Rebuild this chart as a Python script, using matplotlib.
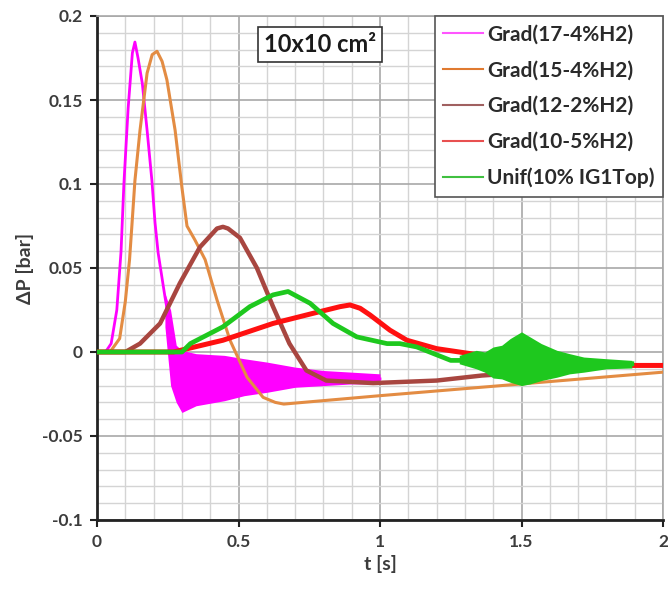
import matplotlib
matplotlib.use("Agg")
import matplotlib.pyplot as plt
from matplotlib.ticker import MultipleLocator
from matplotlib.lines import Line2D

plt.rcParams['font.family'] = ['Lato', 'DejaVu Sans']

# ---------------- data ----------------
labels = ["Grad(17-4%H2)", "Grad(15-4%H2)", "Grad(12-2%H2)", "Grad(10-5%H2)", "Unif(10% IG1Top)"]

mag_t = [0, 0.03, 0.05, 0.07, 0.085, 0.095, 0.11, 0.125, 0.134, 0.145, 0.16, 0.177, 0.194, 0.205,
         0.216, 0.24, 0.25, 0.265, 0.28, 0.3, 0.35, 0.45, 0.6, 0.8, 1.0]
mag_p = [0, 0.0, 0.005, 0.025, 0.06, 0.10, 0.145, 0.178, 0.1845, 0.175, 0.16, 0.132, 0.102, 0.077,
         0.059, 0.033, 0.023, 0.0, -0.012, -0.016, -0.016, -0.015, -0.015, -0.0155, -0.016]
mag_env_t = [0.24, 0.26, 0.28, 0.3, 0.35, 0.45, 0.52, 0.6, 0.7, 0.8, 0.9, 1.0]
mag_env_lo = [0.015, -0.02, -0.03, -0.036, -0.032, -0.029, -0.026, -0.024, -0.021, -0.02, -0.019, -0.019]
mag_env_hi = [0.035, 0.025, 0.004, 0.001, -0.001, -0.002, -0.004, -0.006, -0.009, -0.011, -0.012, -0.013]

ora_t = [0, 0.046, 0.08, 0.1, 0.115, 0.124, 0.134, 0.152, 0.177, 0.195, 0.212, 0.23, 0.247, 0.276,
         0.3, 0.318, 0.346, 0.382, 0.424, 0.47, 0.53, 0.587, 0.63, 0.66, 1.0, 1.5, 2.0]
ora_p = [0, 0, 0.008, 0.03, 0.055, 0.077, 0.102, 0.132, 0.166, 0.177, 0.179, 0.173, 0.162, 0.132,
         0.098, 0.075, 0.0667, 0.055, 0.031, 0.007, -0.015, -0.027, -0.030, -0.031, -0.026, -0.019, -0.012]

bro_t = [0, 0.1, 0.152, 0.223, 0.293, 0.364, 0.424, 0.445, 0.463, 0.505, 0.565, 0.622, 0.68, 0.74,
         0.81, 0.976, 1.2, 1.36, 1.45]
bro_p = [0, 0.0, 0.005, 0.017, 0.041, 0.0625, 0.0735, 0.0745, 0.0735, 0.068, 0.05, 0.027, 0.005, -0.011,
         -0.017, -0.0185, -0.017, -0.014, -0.013]

red_t = [0, 0.27, 0.445, 0.622, 0.763, 0.859, 0.894, 0.93, 0.965, 1.035, 1.095, 1.2, 1.4, 1.6, 1.8, 1.9, 2.0]
red_p = [0, 0.0, 0.007, 0.017, 0.023, 0.027, 0.028, 0.026, 0.022, 0.013, 0.007, 0.002, -0.003,
         -0.006, -0.008, -0.008, -0.008]

gre_t = [0, 0.3, 0.33, 0.445, 0.54, 0.622, 0.675, 0.753, 0.834, 0.918, 1.025, 1.07, 1.13, 1.25, 1.34,
         1.4, 1.5, 1.625, 1.72, 1.89]
gre_p = [0, 0, 0.005, 0.015, 0.027, 0.034, 0.036, 0.029, 0.017, 0.009, 0.005, 0.005, 0.003, -0.005,
         -0.005, -0.006, -0.004, -0.007, -0.0075, -0.007]
gre_env_t = [1.28, 1.34, 1.37, 1.4, 1.43, 1.46, 1.5, 1.53, 1.57, 1.625, 1.67, 1.72, 1.8, 1.89]
gre_env_lo = [-0.007, -0.01, -0.012, -0.0155, -0.016, -0.018, -0.02, -0.019, -0.017, -0.015, -0.013,
              -0.012, -0.01, -0.0095]
gre_env_hi = [-0.002, 0.001, 0.0, 0.003, 0.004, 0.008, 0.012, 0.009, 0.005, 0.001, -0.001, -0.003,
              -0.004, -0.005]

x_ticks = [0, 0.5, 1, 1.5, 2]
x_ticklabels = ["0", "0.5", "1", "1.5", "2"]
y_ticks = [-0.1, -0.05, 0, 0.05, 0.1, 0.15, 0.2]
y_ticklabels = ["-0.1", "-0.05", "0", "0.05", "0.1", "0.15", "0.2"]

colors = ["#ff00ff", "#e38c43", "#a84640", "#ff1010", "#1ec81e"]
legend_colors = ["#ff55ff", "#e07a30", "#a06060", "#e85050", "#40c040"]

# ---------------- figure ----------------
fig = plt.figure(figsize=(6.68, 5.90), dpi=100)
ax = fig.add_axes([97 / 668, 1 - 520 / 590, 566 / 668, 504 / 590])

ax.set_xlim(0, 2)
ax.set_ylim(-0.1, 0.2)
ax.xaxis.set_minor_locator(MultipleLocator(0.1))
ax.yaxis.set_minor_locator(MultipleLocator(0.01))
ax.grid(which='minor', color='#d4d4d4', linewidth=1.0, zorder=0)
ax.grid(which='major', color='#a8a8a8', linewidth=1.2, zorder=0)
ax.set_axisbelow(True)

tc = "#3c3c3c"
ax.set_xticks(x_ticks)
ax.set_xticklabels(x_ticklabels, fontsize=12.5, fontweight='bold', color=tc)
ax.set_yticks(y_ticks)
ax.set_yticklabels(y_ticklabels, fontsize=12.5, fontweight='bold', color=tc)
ax.tick_params(which='major', direction='out', length=5, width=1.5, color='#222222', pad=5)
ax.tick_params(which='minor', length=0)

for s in ['left', 'bottom']:
    ax.spines[s].set_color('#222222')
    ax.spines[s].set_linewidth(2)
for s in ['top', 'right']:
    ax.spines[s].set_color('#a8a8a8')
    ax.spines[s].set_linewidth(1.2)

# series
ax.fill_between(mag_env_t, mag_env_lo, mag_env_hi, color=colors[0], lw=0, zorder=2)
ax.plot(mag_t, mag_p, color=colors[0], lw=2, zorder=2)
ax.plot(ora_t, ora_p, color=colors[1], lw=2.2, zorder=3)
ax.plot(bro_t, bro_p, color=colors[2], lw=3.2, zorder=4)
ax.plot(red_t, red_p, color=colors[3], lw=3.6, zorder=5)
ax.fill_between(gre_env_t, gre_env_lo, gre_env_hi, color=colors[4], lw=0, zorder=6)
ax.plot(gre_t, gre_p, color=colors[4], lw=3.4, zorder=6)

handles = [Line2D([], [], color=c, lw=1.5) for c in legend_colors]
leg = ax.legend(handles, labels, loc='upper right', bbox_to_anchor=(1.0, 1.0),
                borderaxespad=0, fancybox=False, framealpha=1, edgecolor='#555555',
                prop={'size': 15, 'weight': 'bold'}, labelspacing=0.76,
                handlelength=1.9, handletextpad=0.2, borderpad=0.4)
leg.get_frame().set_linewidth(1.2)
leg.set_zorder(10)
for t in leg.get_texts():
    t.set_color('#2a2a2a')

ax.text(0.788, 0.183, "10x10 cm²", ha='center', va='center', fontsize=17, fontweight='bold',
        color='#1a1a1a', zorder=10,
        bbox=dict(boxstyle='square,pad=0.25', fc='white', ec='#333333', lw=1.2))

ax.set_xlabel("t [s]", fontsize=14, fontweight='bold', color=tc, labelpad=4)
ax.set_ylabel("ΔP [bar]", fontsize=14, fontweight='bold', color=tc, labelpad=6)

fig.savefig("out.png", dpi=100)
